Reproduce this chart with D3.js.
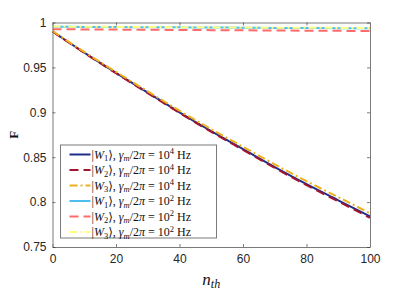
<!DOCTYPE html>
<html>
<head>
<meta charset="utf-8">
<script src="https://cdn.jsdelivr.net/npm/d3@7"></script>
<style>
  body { margin: 0; background: #fff; }
  svg { display: block; }
</style>
</head>
<body>
<div id="vis-container"></div>
<script>
// data
var nth = [0, 10, 20, 30, 40, 50, 60, 70, 80, 90, 100];
var w1Fast = [0.990, 0.9665, 0.944, 0.922, 0.900, 0.879, 0.859, 0.839, 0.820, 0.802, 0.784];
var w2Fast = [0.990, 0.9662, 0.9435, 0.9214, 0.8993, 0.8782, 0.8581, 0.8380, 0.8189, 0.8008, 0.7825];
var w3Fast = [0.9905, 0.9672, 0.9450, 0.9233, 0.9018, 0.8812, 0.8616, 0.8420, 0.8233, 0.8056, 0.7875];
var w1Slow = [0.9953, 0.9951, 0.9949, 0.9947, 0.9946, 0.9944, 0.9942, 0.9940, 0.9939, 0.9937, 0.9935];
var w2Slow = [0.9925, 0.9923, 0.9921, 0.9919, 0.9917, 0.9915, 0.9913, 0.9911, 0.9909, 0.9907, 0.9905];
var w3Slow = [0.9955, 0.9953, 0.9951, 0.9950, 0.9948, 0.9946, 0.9944, 0.9942, 0.9941, 0.9940, 0.9938];
var xTicks = [0, 20, 40, 60, 80, 100];
var yTicks = [0.75, 0.8, 0.85, 0.9, 0.95, 1];
var yTickLabels = ["0.75", "0.8", "0.85", "0.9", "0.95", "1"];

var series = [
  { values: w1Fast, state: "1", exp: "4", color: "#1f2d8c", dash: null },
  { values: w2Fast, state: "2", exp: "4", color: "#a2142f", dash: "9,5" },
  { values: w3Fast, state: "3", exp: "4", color: "#edb120", dash: "8,3,2,3" },
  { values: w1Slow, state: "1", exp: "2", color: "#4dbeee", dash: null },
  { values: w2Slow, state: "2", exp: "2", color: "#ff6b6b", dash: "9,5" },
  { values: w3Slow, state: "3", exp: "2", color: "#ffff80", dash: "8,3,2,3" }
];

var chart = (function() {
  var width = 409;
  var height = 294;
  var mLeft = 52.5, mRight = 370, mTop = 22.5, mBottom = 247;

  var svg = d3.select("#vis-container")
    .append("svg")
    .attr("width", width)
    .attr("height", height);

  var x = d3.scaleLinear().domain([0, 100]).range([mLeft, mRight]);
  var y = d3.scaleLinear().domain([0.75, 1]).range([mBottom, mTop]);

  var axisColor = "#262626";
  var tickFont = "'Liberation Sans', Arial, sans-serif";
  var serif = "'Liberation Serif', 'DejaVu Serif', serif";

  // lines
  var line = d3.line()
    .x(function(d, i) { return x(nth[i]); })
    .y(function(d) { return y(d); })
    .curve(d3.curveMonotoneX);

  var plot = svg.append("g");
  series.forEach(function(s) {
    plot.append("path")
      .attr("d", line(s.values))
      .attr("fill", "none")
      .attr("stroke", s.color)
      .attr("stroke-width", 2)
      .attr("stroke-dasharray", s.dash);
  });

  // axes, ticks inward on all four sides
  var tickLen = 3;
  var bottomAxis = d3.axisBottom(x).tickValues(xTicks).tickSizeInner(-tickLen).tickSizeOuter(0).tickPadding(7);
  var topAxis = d3.axisTop(x).tickValues(xTicks).tickSizeInner(-tickLen).tickSizeOuter(0).tickFormat("");
  var leftAxis = d3.axisLeft(y).tickValues(yTicks).tickSizeInner(-tickLen).tickSizeOuter(0).tickPadding(6)
    .tickFormat(function(d, i) { return yTickLabels[i]; });
  var rightAxis = d3.axisRight(y).tickValues(yTicks).tickSizeInner(-tickLen).tickSizeOuter(0).tickFormat("");

  var gB = svg.append("g").attr("transform", "translate(0," + mBottom + ")").call(bottomAxis);
  var gT = svg.append("g").attr("transform", "translate(0," + mTop + ")").call(topAxis);
  var gL = svg.append("g").attr("transform", "translate(" + mLeft + ",0)").call(leftAxis);
  var gR = svg.append("g").attr("transform", "translate(" + mRight + ",0)").call(rightAxis);

  [gB, gT, gL, gR].forEach(function(g) {
    g.select(".domain").attr("stroke", "#7a7a7a").attr("stroke-width", 1);
    g.selectAll(".tick line").attr("stroke", axisColor).attr("stroke-width", 0.6);
    g.selectAll("text")
      .attr("fill", axisColor)
      .style("font-family", tickFont)
      .style("font-size", "12px");
  });

  // axis labels
  svg.append("text")
    .attr("x", (mLeft + mRight) / 2)
    .attr("y", 285)
    .attr("text-anchor", "middle")
    .style("font-family", serif)
    .style("font-style", "italic")
    .style("font-size", "17px")
    .attr("fill", "#111")
    .call(function(t) {
      t.append("tspan").text("n");
      t.append("tspan").attr("dy", 3).style("font-size", "12px").text("th");
    });

  svg.append("text")
    .attr("transform", "translate(18," + ((mTop + mBottom) / 2) + ") rotate(-90)")
    .attr("text-anchor", "middle")
    .style("font-family", serif)
    .style("font-weight", "bold")
    .style("font-size", "13px")
    .attr("fill", "#111")
    .text("F");

  // legend
  var legend = svg.append("g");
  var lx = 60.5, ly = 145, lw = 156, lh = 93, rowH = 15.5;
  legend.append("rect")
    .attr("x", lx).attr("y", ly)
    .attr("width", lw).attr("height", lh)
    .attr("fill", "#fff")
    .attr("stroke", "#7a7a7a")
    .attr("stroke-width", 1);

  series.forEach(function(s, i) {
    var cy = ly + 9.5 + i * rowH;
    legend.append("line")
      .attr("x1", lx + 9).attr("x2", lx + 30)
      .attr("y1", cy).attr("y2", cy)
      .attr("stroke", s.color)
      .attr("stroke-width", 2)
      .attr("stroke-dasharray", s.dash);

    var t = legend.append("text")
      .attr("x", lx + 31)
      .attr("y", cy + 4)
      .style("font-family", serif)
      .style("font-size", "12px")
      .attr("fill", "#111");
    t.append("tspan").text("|");
    t.append("tspan").style("font-style", "italic").text("W");
    t.append("tspan").attr("dy", 2.5).style("font-size", "8.5px").text(s.state);
    t.append("tspan").attr("dy", -2.5).text("\u27E9, ");
    t.append("tspan").style("font-style", "italic").text("\u03B3");
    t.append("tspan").attr("dy", 2.5).style("font-size", "8.5px").style("font-style", "italic").text("m");
    t.append("tspan").attr("dy", -2.5).text("/2");
    t.append("tspan").style("font-style", "italic").text("\u03C0");
    t.append("tspan").text(" = 10");
    t.append("tspan").attr("dy", -4.5).style("font-size", "8.5px").text(s.exp);
    t.append("tspan").attr("dy", 4.5).text(" Hz");
  });

  return svg;
})();
</script>
</body>
</html>
